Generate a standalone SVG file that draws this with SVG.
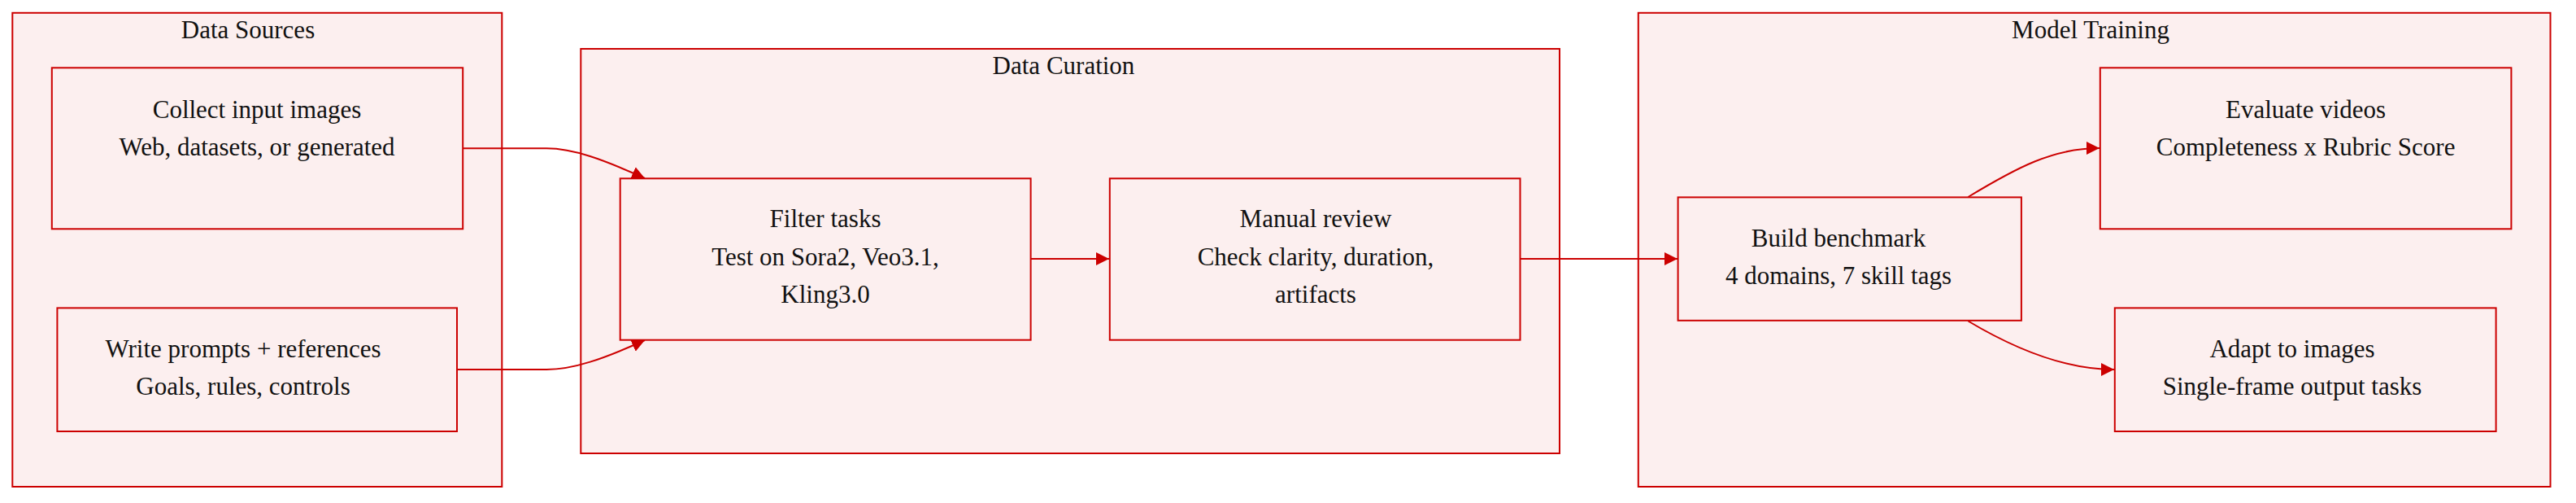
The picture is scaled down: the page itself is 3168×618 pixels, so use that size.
<svg xmlns="http://www.w3.org/2000/svg" width="3168" height="618" viewBox="0 0 3168 618">
<defs>
<style>
.cluster{fill:#fcefef;stroke:#cc0000;stroke-width:2}
.node rect{fill:#fcefef;stroke:#cc0000;stroke-width:2}
text{font-family:"Liberation Serif","Times New Roman",serif;font-size:31px;fill:#111;text-anchor:middle}
.edge{fill:none;stroke:#cc0000;stroke-width:2}
</style>
<marker id="arr" markerUnits="userSpaceOnUse" markerWidth="18" markerHeight="18" refX="16" refY="8" orient="auto">
<path d="M0,0 L16,8 L0,16 z" fill="#cc0000"/>
</marker>
</defs>
<rect width="3168" height="618" fill="#ffffff"/>
<g id="clusters">
<g id="cluster-data-sources"><rect class="cluster" x="15.3" y="15.8" width="602" height="582.2"/><text x="305" y="47">Data Sources</text></g>
<g id="cluster-data-curation"><rect class="cluster" x="714.3" y="60" width="1203.7" height="497"/><text x="1308" y="91">Data Curation</text></g>
<g id="cluster-model-training"><rect class="cluster" x="2014.8" y="15.8" width="1121.7" height="582.2"/><text x="2571" y="47">Model Training</text></g>
</g>
<g id="connectors">
<path class="edge" d="M569,182.3 L672,182.3 C705,182.3 742,196 793,219" marker-end="url(#arr)"/>
<path class="edge" d="M562,454 L672,454 C705,454 742,441 793,418" marker-end="url(#arr)"/>
<path class="edge" d="M1267.6,318 L1364,318" marker-end="url(#arr)"/>
<path class="edge" d="M1869.5,318 L2063,318" marker-end="url(#arr)"/>
<path class="edge" d="M2420.5,242 C2480,206 2525,182 2582,182" marker-end="url(#arr)"/>
<path class="edge" d="M2420.5,394.5 C2480,430 2540,454 2600,454" marker-end="url(#arr)"/>
</g>
<g id="node-collect" class="node"><rect x="63.8" y="83.3" width="505.4" height="198"/><text x="316" y="144.7">Collect input images</text><text x="316" y="190.8">Web, datasets, or generated</text></g>
<g id="node-write" class="node"><rect x="70.4" y="378.4" width="491.6" height="151.6"/><text x="299" y="438.7">Write prompts + references</text><text x="299" y="484.8">Goals, rules, controls</text></g>
<g id="node-filter" class="node"><rect x="762.7" y="219.3" width="504.9" height="198.4"/><text x="1015" y="279.3">Filter tasks</text><text x="1015" y="325.8">Test on Sora2, Veo3.1,</text><text x="1015" y="372">Kling3.0</text></g>
<g id="node-manual" class="node"><rect x="1364.8" y="219.3" width="504.7" height="198.4"/><text x="1618" y="279.3">Manual review</text><text x="1618" y="325.8">Check clarity, duration,</text><text x="1618" y="372">artifacts</text></g>
<g id="node-build" class="node"><rect x="2063.6" y="242.4" width="422.3" height="151.4"/><text x="2261" y="302.7">Build benchmark</text><text x="2261" y="348.8">4 domains, 7 skill tags</text></g>
<g id="node-evaluate" class="node"><rect x="2582.8" y="83.3" width="505.6" height="198"/><text x="2835.6" y="144.7">Evaluate videos</text><text x="2835.6" y="190.8">Completeness x Rubric Score</text></g>
<g id="node-adapt" class="node"><rect x="2600.8" y="378.4" width="468.8" height="151.6"/><text x="2819" y="438.7">Adapt to images</text><text x="2819" y="484.8">Single-frame output tasks</text></g>
</svg>
